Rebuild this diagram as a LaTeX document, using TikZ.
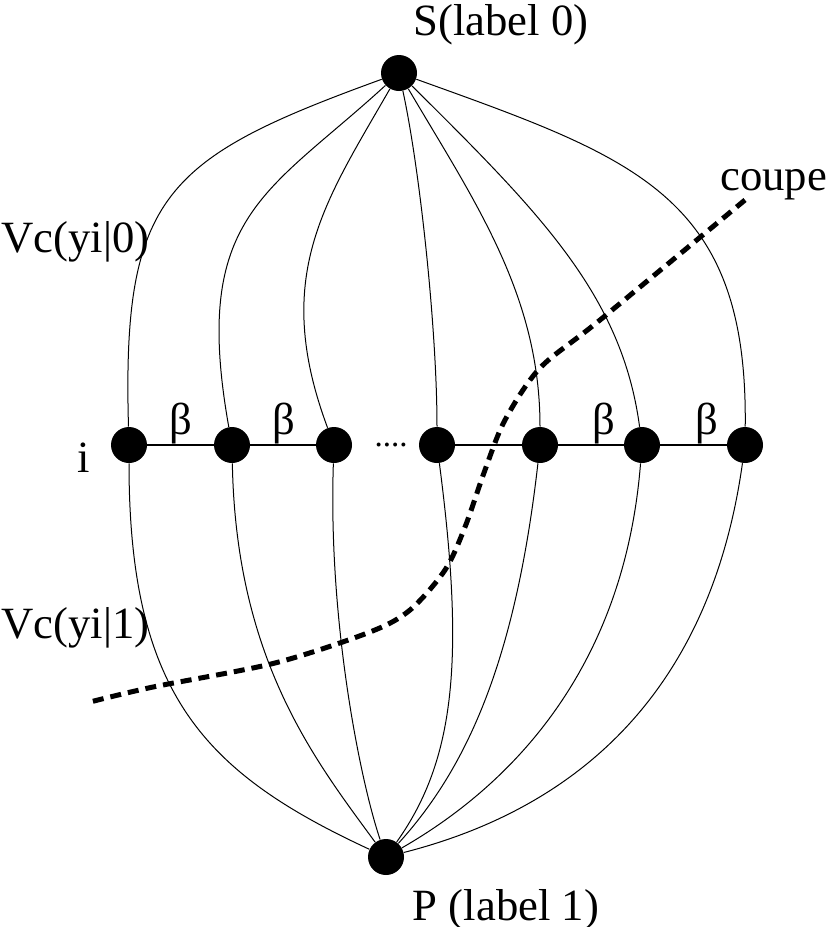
\documentclass[tikz,border=0pt]{standalone}
\usepackage{fontspec}
\setmainfont{Liberation Serif}
\tikzset{sommet/.style={circle,fill=black,inner sep=0pt,minimum size=18pt},
  arete/.style={line width=0.5pt},
  coupe/.style={line width=2.5pt,dash pattern=on 5.5pt off 3.5pt},
  graphe/.style={x=0.5pt,y=-0.5pt,font=\fontsize{22.35}{26}\selectfont}}
\begin{document}
\begin{tikzpicture}[graphe]
    \useasboundingbox (0,0) rectangle (828,927);
    \node[sommet] (S) at (399,73) {};
    \node[sommet] (P) at (386,857) {};
    \foreach \k/\x in {1/129,2/232,3/334,4/437,5/540,6/642,7/745}
      \node[sommet] (n\k) at (\x,445) {};
    \foreach \a/\b in {1/2,2/3,4/5,5/6,6/7} \draw[line width=0.65pt] (n\a) -- (n\b);
    % source side
    \foreach \k/\c/\d in {1/{165,158}/{122,195},2/{267,194}/{191,215},3/{325,202}/{271,276},
        4/{420,170}/{437,330},5/{475,202}/{540,295},6/{540,213}/{622,295},7/{635,158}/{748,195}}
      \draw[arete] (S) .. controls (\c) and (\d) .. (n\k);
    % puits side
    \foreach \k/\c/\d in {1/{129,695}/{205,773},2/{236,660}/{315,760},3/{328,620}/{360,780},
        4/{465,660}/{455,760},5/{515,665}/{465,770},6/{625,660}/{520,780},7/{712,680}/{590,805}}
      \draw[arete] (n\k) .. controls (\c) and (\d) .. (P);
    \draw[coupe] plot[smooth] coordinates {(745,200) (600,320) (540,368) (505,420) (485,470)
        (465,527) (445,570) (410,610) (370,632) (275,663) (153,687) (90,702)};
    \node[anchor=base] (lS) at (501,35) {S(label 0)};
    \node[anchor=base] (lP) at (506,920) {P (label 1)};
    \node[anchor=base west,inner sep=0pt] (l0) at (1,252) {Vc(yi|0)};
    \node[anchor=base west,inner sep=0pt] (l1) at (1,638) {Vc(yi|1)};
    \node[anchor=base west,inner sep=0pt] (lc) at (720,190) {coupe};
    \node[anchor=base] (li) at (84,472) {i};
    \foreach \x [count=\j] in {181,284,604,707} \node[anchor=base] (b\j) at (\x,434) {β};
    \node[anchor=base,font=\fontsize{16.5}{18}\selectfont] (dots) at (391,446) {....};
  \end{tikzpicture}
\end{document}
